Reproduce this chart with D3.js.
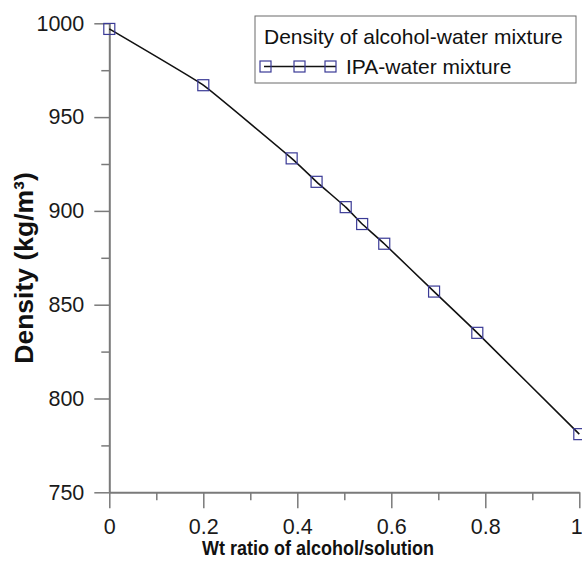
<!DOCTYPE html>
<html>
<head>
<meta charset="utf-8">
<title>Density of alcohol-water mixture</title>
<script src="https://cdn.jsdelivr.net/npm/d3@7"></script>
<style>
  body { margin: 0; background: #fff; }
  text { font-family: "Liberation Sans", Arial, sans-serif; }
</style>
</head>
<body>
<script>
// values
var wtRatio = [0, 0.2, 0.388, 0.441, 0.503, 0.538, 0.585, 0.691, 0.783, 1];
var density = [997, 967, 928, 915.5, 902, 893, 882.5, 857, 835, 781];
var xTicks = [0, 0.2, 0.4, 0.6, 0.8, 1];
var yTicks = [750, 800, 850, 900, 950, 1000];
var seriesName = "IPA-water mixture";
var legendTitle = "Density of alcohol-water mixture";

var W = 582, H = 562;
var margin = {top: 23.3, left: 109.3},
    width = 470,
    height = 469;

var svg = d3.select("body").append("svg")
    .attr("width", W)
    .attr("height", H);

var x = d3.scaleLinear().domain([0, 1]).range([margin.left, margin.left + width]);
var y = d3.scaleLinear().domain([750, 1000]).range([margin.top + height, margin.top]);

var axisColor = "#7a7a7a";

// minor ticks first (no labels)
svg.append("g")
    .attr("transform", "translate(0," + y(750) + ")")
    .call(d3.axisBottom(x).tickValues(d3.range(0.1, 1, 0.2)).tickSize(8).tickFormat(""))
    .call(function(g) { g.select(".domain").remove(); });
svg.append("g")
    .attr("transform", "translate(" + x(0) + ",0)")
    .call(d3.axisLeft(y).tickValues(d3.range(775, 1000, 50)).tickSize(8).tickFormat(""))
    .call(function(g) { g.select(".domain").remove(); });

var xAxis = svg.append("g")
    .attr("transform", "translate(0," + y(750) + ")")
    .call(d3.axisBottom(x).tickValues(xTicks).tickSize(16).tickSizeOuter(0).tickPadding(10)
      .tickFormat(function(d) { return d === 0 || d === 1 ? d3.format("d")(d) : d3.format(".1f")(d); }));
// last label sits at the right edge, nudge it in
xAxis.selectAll(".tick text").filter(function(d) { return d === 1; }).attr("dx", "-3");

var yAxis = svg.append("g")
    .attr("transform", "translate(" + x(0) + ",0)")
    .call(d3.axisLeft(y).tickValues(yTicks).tickSize(15).tickSizeOuter(0).tickPadding(10)
      .tickFormat(d3.format("d")));

svg.selectAll(".tick line").attr("stroke", axisColor).attr("stroke-width", 1.5);
svg.selectAll(".domain").attr("stroke", axisColor).attr("stroke-width", 2);
svg.selectAll(".tick text")
    .attr("fill", "#1a1a1a")
    .style("font-family", "'Liberation Sans', Arial, sans-serif")
    .style("font-size", "21.5px");

// curve
var pts = wtRatio.map(function(d, i) { return [d, density[i]]; });
var line = d3.line()
    .x(function(d) { return x(d[0]); })
    .y(function(d) { return y(d[1]); })
    .curve(d3.curveCardinal.tension(0.7));

svg.append("path")
    .datum(pts)
    .attr("fill", "none")
    .attr("stroke", "#111")
    .attr("stroke-width", 1.6)
    .attr("d", line);

var sq = 11;
svg.selectAll(".pt")
    .data(pts)
    .enter().append("rect")
    .attr("class", "pt")
    .attr("x", function(d) { return x(d[0]) - sq / 2; })
    .attr("y", function(d) { return y(d[1]) - sq / 2; })
    .attr("width", sq)
    .attr("height", sq)
    .attr("fill", "none")
    .attr("stroke", "#3a3a96")
    .attr("stroke-width", 1.2);

// axis titles
svg.append("text")
    .attr("transform", "translate(318,555) scale(1,1.12)")
    .attr("text-anchor", "middle")
    .attr("font-weight", "bold")
    .attr("font-size", 18)
    .attr("fill", "#111")
    .text("Wt ratio of alcohol/solution");

svg.append("text")
    .attr("transform", "translate(33,268) rotate(-90)")
    .attr("text-anchor", "middle")
    .attr("font-weight", "bold")
    .attr("font-size", 26.5)
    .attr("fill", "#111")
    .text("Density (kg/m³)");

// legend
var lg = svg.append("g");
lg.append("rect")
    .attr("x", 255).attr("y", 16)
    .attr("width", 321).attr("height", 67)
    .attr("fill", "#fff")
    .attr("stroke", "#6a6a6a")
    .attr("stroke-width", 1);
lg.append("text")
    .attr("x", 264).attr("y", 44)
    .attr("font-size", 21)
    .attr("fill", "#111")
    .text(legendTitle);
lg.append("line")
    .attr("x1", 264).attr("x2", 336)
    .attr("y1", 66.5).attr("y2", 66.5)
    .attr("stroke", "#111").attr("stroke-width", 1.6);
lg.selectAll(".lsq")
    .data([266, 300, 331])
    .enter().append("rect")
    .attr("x", function(d) { return d - 6; })
    .attr("y", 61)
    .attr("width", 11).attr("height", 11)
    .attr("fill", "none")
    .attr("stroke", "#3a3a96")
    .attr("stroke-width", 1.2);
lg.append("text")
    .attr("x", 346).attr("y", 74)
    .attr("font-size", 21)
    .attr("fill", "#111")
    .text(seriesName);
</script>
</body>
</html>
